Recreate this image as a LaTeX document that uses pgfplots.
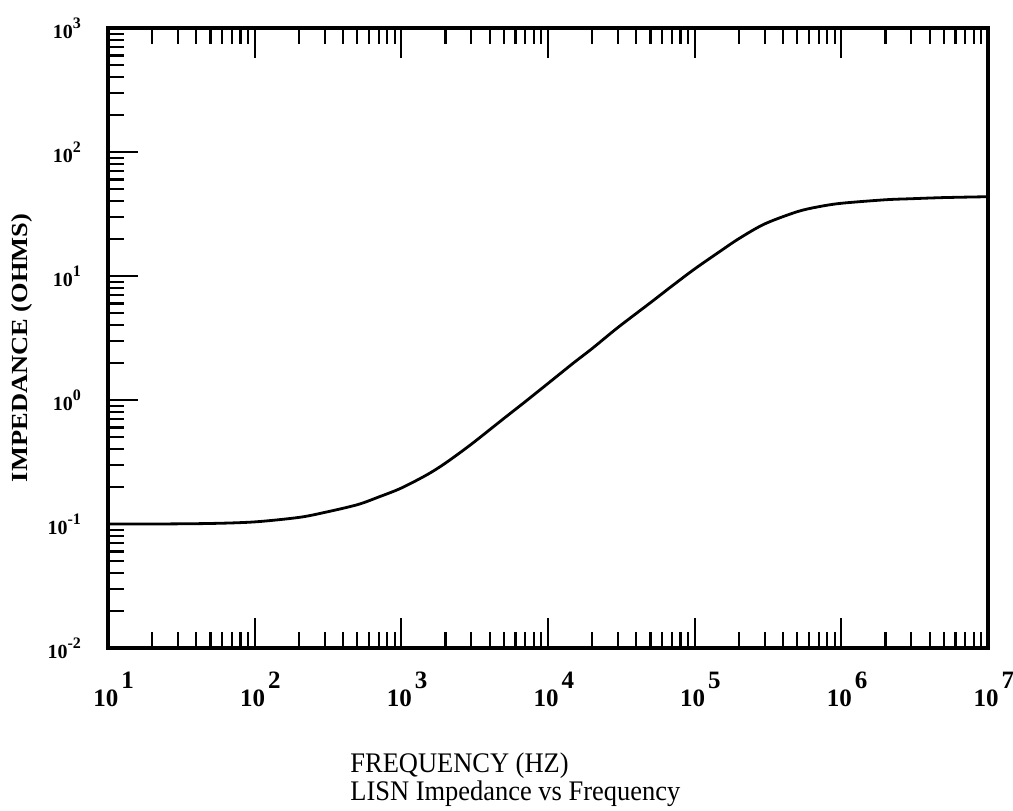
\documentclass[border=0pt]{standalone}
\usepackage{pgfplots}
\pgfplotsset{compat=1.18}
\usepackage{fontspec}
\setmainfont{Liberation Serif}
\usepackage{graphicx}

\newcommand{\xtl}[1]{{\fontsize{12.5}{14}\selectfont\textbf{10}\rlap{\hspace{1.5pt}\raisebox{9pt}{\textbf{#1}}}}}
\newcommand{\ytl}[1]{{\fontsize{10}{12}\selectfont\textbf{10}\raisebox{5pt}{\fontsize{8}{9}\selectfont\textbf{#1}}}}

\begin{document}
\begin{tikzpicture}
\begin{axis}[
    xmode=log, ymode=log,
    scale only axis,
    width=440pt, height=310pt,
    xmin=10, xmax=1e7,
    ymin=0.01, ymax=1000,
    xtick={10,100,1000,10000,100000,1000000,10000000},
    xticklabels={\xtl{1},\xtl{2},\xtl{3},\xtl{4},\xtl{5},\xtl{6},\xtl{7}},
    ytick={0.01,0.1,1,10,100,1000},
    yticklabels={\ytl{-2},\ytl{-1},\ytl{0},\ytl{1},\ytl{2},\ytl{3}},
    xtick pos=both, xticklabel pos=lower,
    ytick pos=left,
    tick align=inside,
    major tick length=15pt,
    minor tick length=8pt,
    every tick/.style={black, line width=1.1pt},
    axis line style={line width=2pt},
    xticklabel style={yshift=-8.5pt, xshift=-1pt},
    yticklabel style={xshift=-10pt},
    ylabel={\scalebox{1.15}[1]{\textbf{IMPEDANCE (OHMS)}}},
    ylabel style={font=\fontsize{11.5}{13}\selectfont, at={(axis description cs:-0.0977,0.484)}, anchor=center},
    clip=false,
]
% impedance (f in Hz, Z in ohms)
\addplot[black, line width=1.4pt, smooth] table[row sep=\\] {
f Z\\
10 0.100\\
20 0.100\\
50 0.101\\
100 0.104\\
200 0.113\\
300 0.124\\
500 0.143\\
700 0.165\\
1000 0.195\\
1500 0.25\\
2000 0.31\\
3000 0.44\\
5000 0.71\\
7000 0.97\\
10000 1.36\\
15000 2.0\\
20000 2.6\\
30000 3.85\\
50000 6.1\\
70000 8.3\\
100000 11.4\\
150000 15.9\\
200000 20.0\\
300000 26.3\\
500000 33.0\\
700000 36.2\\
1000000 38.6\\
2000000 41.2\\
3000000 42.0\\
5000000 42.9\\
10000000 43.6\\
};
\node[anchor=north west, inner sep=0pt, align=left,
      font=\fontsize{13.5}{13.5}\selectfont]
    at (axis description cs:0.275,-0.1677)
    {\scalebox{0.98}[1.05]{FREQUENCY (HZ)}\\[0.6pt]\scalebox{0.98}[1.05]{LISN Impedance vs Frequency}};
\end{axis}
\pgfresetboundingbox
\path[use as bounding box] ([shift={(-54pt,-81pt)}]current axis.south west) rectangle ([shift={(12.5pt,14pt)}]current axis.north east);
\end{tikzpicture}
\end{document}
